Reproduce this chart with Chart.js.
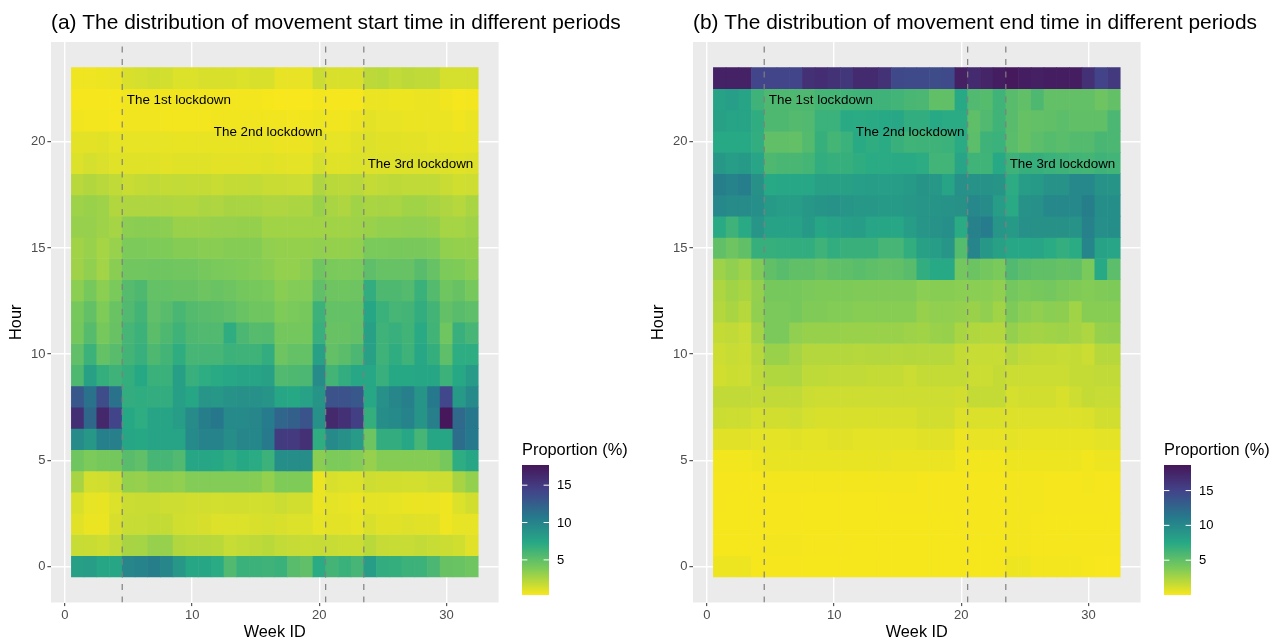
<!DOCTYPE html>
<html>
<head>
<meta charset="utf-8">
<script src="https://cdn.jsdelivr.net/npm/chart.js@4"></script>
<style>
  html, body { margin: 0; padding: 0; background: #fff; overflow: hidden; }
  canvas { position: absolute; top: 0; }
  #startChart { left: 0; }
  #endChart { left: 642px; }
</style>
</head>
<body>
<canvas id="startChart" width="640" height="640"></canvas>
<canvas id="endChart" width="637" height="640"></canvas>
<script>
// hours, top row of the picture first
var hours = [23,22,21,20,19,18,17,16,15,14,13,12,11,10,9,8,7,6,5,4,3,2,1,0];
var weeks = [1,2,3,4,5,6,7,8,9,10,11,12,13,14,15,16,17,18,19,20,21,22,23,24,25,26,27,28,29,30,31,32];
var lockdownWeeks = [4.5, 20.5, 23.5];
var lockdownLabels = ['The 1st lockdown', 'The 2nd lockdown', 'The 3rd lockdown'];
var weekTicks = [0, 10, 20, 30];
var hourTicks = [0, 5, 10, 15, 20];
var startLegendTicks = [5, 10, 15];
var endLegendTicks = [5, 10, 15];
var startRange = [0.3, 17.7];
var endRange = [0, 18.67];

var startValues = [
  [.55,.55,.6,.7, 1.2,1.3,1.45,1.35,1.1,1.1,1.2,1.2,1.2,1.1,1.2,1.2, .75,.75,.75, 1.6, 1.2,1.2,1.2, 2.0,2.1,1.85,2.0,1.9,1.9, 1.3,1.3,1.3],
  [.4,.4,.4,.35, .5,.5,.5,.5,.5,.5,.5,.5,.45,.45,.45,.35, .32,.3,.3, .45, .4,.4,.4, .66,.66,.6,.6,.66,.66, .5,.4,.45],
  [.5,.45,.45,.38, .5,.5,.5,.45,.45,.45,.45,.5,.5,.5,.5,.5, .5,.45,.5, .6, .5,.5,.65, .9,.75,.75,.68,.68,.68, .68,.5,.68],
  [.88,.88,.96,.8, .8,.8,.8,.8,.72,.72,.72,.72,.72,.72,.72,.72, .64,.64,.64, .88, .8,.8,.96, 1.04,.96,.96,.88,.88,.8, .8,.72,.8],
  [1.1,1.3,1.17,.98, .98,.98,.98,.9,.98,.98,.98,.9,.9,.9,.9,.98, .9,.85,.85, 1.3, .98,.98,1.1, 1.04,1.04,1.04,1.04,1.04,1.04, 1.04,.98,1.04],
  [2.15,2.3,2.15,1.9, 1.68,1.76,1.9,1.76,1.84,1.76,1.76,1.68,1.76,1.76,1.84,1.68, 1.68,1.6,1.52, 2.4, 2.1,2.0,2.15, 1.76,1.9,2.0,1.9,1.9,1.9, 1.68,1.45,1.52],
  [2.9,3.0,2.9,2.3, 2.4,2.4,2.4,2.4,2.3,2.3,2.5,2.4,2.6,2.55,2.55,2.4, 2.4,2.5,2.5, 3.0, 2.55,2.4,2.8, 2.55,2.6,2.55,2.8,2.8,2.6, 2.4,2.2,2.55],
  [3.1,3.1,2.9,2.7, 3.4,3.5,3.5,3.4,3.0,3.0,3.0,3.1,3.1,3.15,3.15,2.8, 2.8,2.8,2.8, 2.8, 2.8,2.8,2.9, 3.0,3.2,3.2,3.3,3.3,3.15, 2.7,2.7,2.9],
  [2.8,3.05,2.7,3.05, 3.9,3.9,3.8,3.8,3.6,3.6,3.5,3.5,3.6,3.6,3.6,3.3, 3.15,3.15,3.15, 3.3, 3.15,3.15,3.25, 4.0,4.0,4.05,4.05,4.05,3.9, 3.25,3.15,3.15],
  [2.85,3.3,2.75,3.5, 4.3,4.3,4.4,4.4,4.3,4.3,4.1,4.0,3.9,3.8,3.7,3.5, 3.2,3.2,3.4, 4.4, 4.0,3.9,4.0, 5.1,4.75,4.75,4.75,5.3,4.75, 3.9,3.8,3.5],
  [3.4,4.1,3.4,4.0, 5.4,5.7,4.8,4.8,4.7,4.7,4.5,4.6,4.5,4.2,4.1,4.0, 3.5,3.7,3.7, 5.0, 4.5,4.4,4.5, 6.8,5.7,5.7,5.5,6.5,5.5, 4.4,4.7,4.1],
  [4.1,4.9,3.8,4.6, 5.6,6.1,5.0,5.3,5.9,5.5,5.3,5.2,5.0,4.6,4.4,4.4, 3.8,4.0,4.1, 6.4, 4.8,4.8,4.8, 7.5,6.5,6.0,6.1,6.8,6.1, 4.9,5.3,5.1],
  [4.2,5.4,4.1,4.7, 6.0,6.4,5.2,5.7,6.3,5.7,5.6,5.6,6.9,5.8,5.4,5.5, 4.2,4.2,4.2, 6.6, 4.7,4.7,4.9, 7.9,6.3,6.6,6.2,7.2,6.2, 4.4,6.6,6.0],
  [5.0,6.4,4.8,5.3, 6.1,6.6,5.7,6.1,6.9,6.0,6.0,6.0,6.4,6.3,6.3,6.8, 4.5,4.8,4.8, 7.9, 4.9,5.2,5.8, 7.9,6.3,6.9,6.3,7.4,6.7, 5.1,7.0,7.0],
  [5.7,7.9,6.7,6.3, 6.7,7.3,6.5,6.5,8.0,6.6,7.0,7.2,7.4,7.6,7.6,7.9, 5.6,5.7,5.8, 9.4, 6.1,6.8,7.4, 7.4,6.6,7.3,7.3,7.5,7.5, 6.4,7.3,8.3],
  [13.0,11.2,13.7,11.2, 6.8,6.9,6.8,6.8,8.0,7.5,8.7,8.6,8.9,9.0,9.0,8.8, 7.5,7.3,7.8, 8.8, 13.3,13.3,13.0, 7.4,9.0,9.8,10.3,8.8,10.8, 14.0,8.4,9.5],
  [15.8,11.9,16.4,14.2, 7.3,7.0,7.6,7.6,8.2,9.4,10.4,10.9,9.6,9.6,9.8,10.5, 12.0,12.4,13.2, 9.0, 16.3,15.7,14.6, 6.7,9.3,9.6,10.0,8.8,10.3, 17.6,11.8,10.9],
  [9.4,8.5,10.2,10.3, 7.5,7.3,7.7,7.7,7.6,9.5,10.0,10.0,9.3,9.8,9.7,10.7, 14.9,15.0,15.7, 6.9, 9.5,9.0,8.3, 4.5,6.8,6.8,7.4,6.0,7.5, 7.5,11.5,10.8],
  [4.4,3.9,4.1,4.2, 5.3,5.0,6.0,6.0,5.6,7.5,7.5,7.3,6.9,7.3,7.1,6.4, 9.2,9.3,9.3, 3.5, 3.9,3.9,3.7, 3.1,3.6,3.6,3.6,3.6,3.6, 4.1,7.0,7.5],
  [2.6,1.35,1.4,1.65, 3.2,3.1,3.4,3.4,3.3,3.7,3.7,3.7,3.7,3.7,3.6,3.2, 3.8,3.8,3.8, .7, 1.2,1.1,1.1, 1.5,1.4,1.4,1.35,1.35,1.5, 1.5,2.6,3.2],
  [1.2,.8,.72,1.1, 1.6,1.65,1.65,1.5,1.5,1.4,1.4,1.35,1.4,1.4,1.35,1.4, 1.6,1.4,1.4, .7, .85,.8,.7, .85,.85,.8,.7,.7,.7, .55,1.1,1.4],
  [.95,.7,.7,1.25, 1.7,1.7,1.8,1.8,1.45,1.35,1.25,1.05,1.1,1.1,1.2,1.3, 1.2,1.1,1.1, .8, .9,.9,.8, 1.2,.95,.95,1.05,.95,.95, .55,.8,.8],
  [1.7,1.65,1.5,1.85, 2.6,2.7,3.1,3.1,2.3,2.2,2.2,2.1,1.7,1.85,1.95,2.1, 1.85,1.75,1.7, 1.75, 1.7,1.6,1.6, 2.1,1.75,1.7,1.7,1.85,1.7, 1.6,1.45,1.0],
  [8.0,8.1,7.5,7.5, 9.8,10.0,10.4,9.8,8.5,7.5,7.5,7.1,5.6,6.5,6.4,6.3, 6.5,5.3,5.0, 7.1, 6.1,6.5,6.0, 8.1,6.8,6.7,6.4,6.4,5.8, 4.7,4.6,4.4]
];

var endValues = [
  [17.7,17.7,17.7,14.9, 14.9,14.9,14.9,16.5,16.8,16.4,16.0,17.0,17.0,16.4,14.6,14.5, 14.5,14.4,14.5, 17.8, 17.0,17.5,18.0, 18.4,18.0,17.8,18.0,18.0,18.0, 16.5,15.0,15.8],
  [8.0,8.3,7.9,6.5, 5.8,5.8,5.8,5.8,6.2,6.2,6.3,6.4,6.5,6.5,6.3,6.0, 5.9,5.0,5.0, 7.5, 5.7,5.5,6.4, 5.4,5.0,5.8,4.9,4.9,4.9, 4.9,4.5,4.9],
  [8.2,7.9,7.9,7.1, 5.8,5.8,5.6,5.7,6.6,6.6,7.4,7.3,7.4,7.5,7.6,7.0, 7.0,7.5,7.3, 7.3, 5.1,5.7,6.4, 5.4,4.8,4.9,5.0,5.2,5.0, 5.0,5.0,5.9],
  [7.5,7.5,7.5,7.0, 5.0,5.0,4.9,5.6,6.8,6.2,6.6,7.4,7.1,7.3,6.7,6.4, 6.5,6.5,6.6, 7.3, 5.2,6.5,6.6, 5.3,4.8,5.2,5.5,5.3,5.6, 5.6,6.0,5.9],
  [8.8,8.4,8.6,7.8, 5.8,6.0,6.0,6.2,7.0,6.8,6.8,7.1,7.3,7.3,7.4,7.4, 7.2,6.3,6.3, 7.8, 6.4,6.4,7.5, 6.5,6.8,6.8,6.6,6.5,6.3, 6.2,6.5,6.3],
  [10.8,10.5,10.9,9.3, 7.5,7.6,7.6,7.6,8.2,8.2,8.2,8.3,8.4,8.3,8.4,8.7, 9.1,8.9,7.9, 9.4, 9.2,9.2,9.1, 7.2,8.4,8.6,9.2,9.2,10.0, 10.0,9.2,9.1],
  [10.0,9.8,9.8,9.5, 8.6,8.4,8.4,8.9,9.1,9.2,9.0,8.8,8.8,8.7,8.7,8.9, 9.0,9.1,9.2, 9.3, 10.0,9.8,8.5, 7.4,9.2,9.4,10.0,10.0,10.0, 10.8,9.6,9.6],
  [7.4,6.5,7.4,9.0, 8.0,8.0,8.0,8.7,7.7,8.0,8.3,8.4,7.8,7.7,7.6,8.5, 9.0,9.2,9.5, 7.3, 10.6,11.0,9.0, 8.7,9.4,9.3,9.3,9.3,9.2, 10.6,9.5,9.6],
  [5.0,4.5,5.0,6.8, 6.8,6.9,7.0,7.0,6.5,7.0,6.7,6.7,6.7,6.1,6.1,7.0, 8.2,8.5,9.0, 5.5, 10.3,8.8,8.2, 7.6,7.6,7.8,7.3,6.9,7.3, 10.3,8.0,7.8],
  [2.8,3.2,2.8,3.7, 5.0,5.4,5.0,5.0,4.7,5.0,5.1,5.3,5.1,4.9,5.0,5.4, 7.0,7.5,7.5, 4.2, 4.6,4.2,4.0, 5.7,5.2,5.0,5.0,4.8,4.9, 4.0,7.5,5.2],
  [2.3,2.7,2.4,3.1, 4.1,4.1,4.1,3.9,3.8,3.8,3.8,3.7,3.7,3.7,3.7,3.7, 3.4,3.5,3.5, 3.4, 3.4,3.4,3.2, 4.2,4.0,4.1,4.2,3.9,3.7, 3.6,3.7,3.8],
  [2.1,2.4,2.0,3.2, 3.9,3.9,4.1,3.7,3.7,3.6,3.6,3.5,3.5,3.5,3.5,3.5, 3.0,3.2,3.2, 3.1, 2.9,3.2,2.7, 3.8,3.4,3.2,3.4,3.3,2.7, 3.5,3.5,3.5],
  [1.6,1.7,1.5,2.6, 3.9,3.9,3.2,3.0,3.0,3.0,2.9,2.9,2.9,2.9,2.9,2.8, 2.7,2.9,3.0, 2.4, 2.2,2.1,2.1, 3.1,2.7,2.6,2.7,2.8,2.6, 2.3,3.0,3.1],
  [1.3,1.5,1.4,2.0, 2.9,2.9,2.5,2.1,2.1,2.1,2.1,2.0,2.1,2.1,2.0,2.1, 2.0,2.0,2.0, 1.6, 1.5,1.5,1.5, 2.0,1.7,1.6,1.6,1.5,1.6, 1.4,2.0,2.0],
  [1.2,1.35,1.3,1.8, 2.2,2.2,2.3,1.8,1.8,1.7,1.7,1.7,1.6,1.6,1.6,1.4, 1.6,1.6,1.6, 1.6, 1.4,1.4,1.6, 1.4,1.4,1.4,1.4,1.4,1.6, 1.6,1.7,1.7],
  [1.7,1.7,1.7,1.6, 1.7,1.7,1.7,1.4,1.3,1.3,1.3,1.3,1.3,1.3,1.3,1.3, 1.3,1.3,1.3, 1.2, 1.6,1.6,1.6, 1.1,1.2,1.2,1.2,1.0,1.3, 1.6,1.5,1.5],
  [1.4,1.3,1.3,1.1, 1.2,1.2,1.3,1.1,1.0,1.0,1.0,1.0,.95,1.0,.95,.95, 1.2,1.2,1.2, .8, .9,.9,.9, .8,.8,.8,.8,.8,.8, .9,1.2,1.2],
  [.7,.7,.7,.6, .6,.6,.7,.6,.6,.7,.7,.6,.6,.6,.6,.6, .7,.7,.7, .35, .5,.5,.5, .6,.5,.45,.45,.45,.45, .45,.6,.6],
  [.2,.2,.2,.3, .45,.45,.45,.45,.45,.45,.45,.45,.45,.45,.4,.4, .4,.4,.4, .2, .2,.2,.2, .3,.3,.3,.3,.3,.3, .2,.3,.35],
  [.1,.1,.1,.1, .15,.15,.15,.15,.15,.15,.15,.15,.15,.15,.15,.15, .1,.1,.1, .1, .1,.1,.1, .15,.15,.15,.1,.1,.1, .15,.1,.1],
  [.1,.05,.05,.1, .1,.1,.1,.05,.05,.05,.05,.05,.05,.05,.1,.1, .1,.1,.1, .1, .1,.1,.1, .15,.15,.15,.1,.1,.1, .1,.1,.05],
  [.05,.05,.05,.1, .1,.1,.1,.05,.05,.05,.05,.05,.05,.05,.05,.05, .05,.05,.05, .1, .1,.1,.1, .15,.15,.1,.05,.05,.05, .05,.05,.05],
  [.05,.05,.05,.1, .15,.15,.15,.1,.1,.1,.1,.05,.05,.05,.05,.05, .05,.05,.05, .05, .05,.05,.05, .15,.15,.1,.1,.1,.1, .1,.1,.1],
  [.3,.3,.3,.05, .1,.1,.1,.05,.05,.05,.05,.05,.05,.05,.05,.05, .05,.05,.05, .05, .05,.05,.1, .3,.3,.15,.15,.15,.15, .05,.03,.03]
];

// reversed viridis, low to high
var palette = [[248,231,28],[127,203,88],[39,169,133],[38,121,140],[66,68,138],[70,22,89]];

var fontFamily = '"Liberation Sans", Arial, Helvetica, sans-serif';

function colorFor(value, range) {
    var t = (value - range[0]) / (range[1] - range[0]);
    t = Math.max(0, Math.min(1, t)) * (palette.length - 1);
    var i = Math.min(Math.floor(t), palette.length - 2);
    var f = t - i;
    var c = palette[i].map((p, k) => Math.round(p + (palette[i + 1][k] - p) * f));
    return `rgb(${c[0]}, ${c[1]}, ${c[2]})`;
}

// panel background, title, lockdown notes and the colour bar
var decorations = {
    id: 'decorations',
    beforeDraw: function(chart) {
        var area = chart.chartArea;
        chart.ctx.fillStyle = '#EBEBEB';
        chart.ctx.fillRect(area.left, area.top, area.width, area.height);
    },
    afterDraw: function(chart, args, opts) {
        var ctx = chart.ctx;
        var x = chart.scales.x;
        var y = chart.scales.y;
        ctx.save();
        ctx.textBaseline = 'middle';
        ctx.textAlign = 'left';

        ctx.fillStyle = '#000';
        ctx.font = '20.9px ' + fontFamily;
        ctx.fillText(opts.title, 51, 23.5);

        ctx.font = '13.4px ' + fontFamily;
        var noteAt = [[4.86, 21.95], [11.7, 20.45], [23.8, 18.95]];
        lockdownLabels.forEach((label, i) => {
            ctx.fillText(label, x.getPixelForValue(noteAt[i][0]), y.getPixelForValue(noteAt[i][1]));
        });

        // colour bar
        var barLeft = 522, barTop = 465, barW = 27, barH = 130;
        ctx.font = '16.4px ' + fontFamily;
        ctx.fillText('Proportion (%)', barLeft, 450.5);
        var grad = ctx.createLinearGradient(0, barTop + barH, 0, barTop);
        palette.forEach((c, i) => grad.addColorStop(i / (palette.length - 1), `rgb(${c[0]}, ${c[1]}, ${c[2]})`));
        ctx.fillStyle = grad;
        ctx.fillRect(barLeft, barTop, barW, barH);
        ctx.font = '13px ' + fontFamily;
        opts.legendTicks.forEach(v => {
            var py = barTop + barH - (v - opts.range[0]) / (opts.range[1] - opts.range[0]) * barH;
            ctx.fillStyle = '#fff';
            ctx.fillRect(barLeft, py - 0.5, 5.4, 1);
            ctx.fillRect(barLeft + barW - 5.4, py - 0.5, 5.4, 1);
            ctx.fillStyle = '#000';
            ctx.fillText(String(v), barLeft + barW + 8, py + 0.5);
        });
        ctx.restore();
    }
};

function makeChart(id, values, range, legendTicks, title, rightPad) {
    var datasets = hours.map((h, r) => ({
        type: 'bar',
        order: 1,
        grouped: false,
        barPercentage: 1,
        categoryPercentage: 1,
        inflateAmount: 0.3,
        borderWidth: 0,
        data: weeks.map(w => ({ x: w, y: [h - 0.5, h + 0.5] })),
        backgroundColor: values[r].map(v => colorFor(v, range))
    }));
    lockdownWeeks.forEach(w => {
        datasets.push({
            type: 'line',
            order: 0,
            data: [{ x: w, y: -1.7 }, { x: w, y: 24.7 }],
            borderColor: '#7F7F7F',
            borderWidth: 1.2,
            borderDash: [6, 6.5],
            pointRadius: 0
        });
    });

    return new Chart(document.getElementById(id), {
        data: { datasets: datasets },
        plugins: [decorations],
        options: {
            responsive: false,
            animation: false,
            events: [],
            layout: { padding: { top: 42, right: rightPad, bottom: 0, left: 0 } },
            plugins: {
                legend: { display: false },
                tooltip: { enabled: false },
                decorations: { title: title, legendTicks: legendTicks, range: range }
            },
            scales: {
                x: {
                    type: 'linear',
                    offset: false,
                    min: -1.1,
                    max: 34.1,
                    afterFit: function(s) { s.height = 37.5; },
                    afterBuildTicks: function(s) { s.ticks = weekTicks.map(v => ({ value: v })); },
                    border: { display: false },
                    grid: { offset: false, color: '#fff', lineWidth: 1.4, tickColor: '#333', tickWidth: 1, tickLength: 3.6 },
                    ticks: { color: '#4D4D4D', font: { family: fontFamily, size: 13 }, padding: 2, maxRotation: 0, autoSkip: false },
                    title: { display: true, text: 'Week ID', color: '#000', font: { family: fontFamily, size: 16.3 }, padding: { top: 0, bottom: -2 } }
                },
                y: {
                    type: 'linear',
                    min: -1.7,
                    max: 24.7,
                    afterFit: function(s) { s.width = 51; },
                    afterBuildTicks: function(s) { s.ticks = hourTicks.map(v => ({ value: v })); },
                    border: { display: false },
                    grid: { color: '#fff', lineWidth: 1.4, tickColor: '#333', tickWidth: 1, tickLength: 3.6 },
                    ticks: { color: '#4D4D4D', font: { family: fontFamily, size: 13 }, padding: 2, autoSkip: false },
                    title: { display: true, text: 'Hour', color: '#000', font: { family: fontFamily, size: 16.3 }, padding: { top: 7, bottom: 0 } }
                }
            }
        }
    });
}

makeChart('startChart', startValues, startRange, startLegendTicks, '(a) The distribution of movement start time in different periods', 141.4);
makeChart('endChart', endValues, endRange, endLegendTicks, '(b) The distribution of movement end time in different periods', 138.4);
</script>
</body>
</html>
